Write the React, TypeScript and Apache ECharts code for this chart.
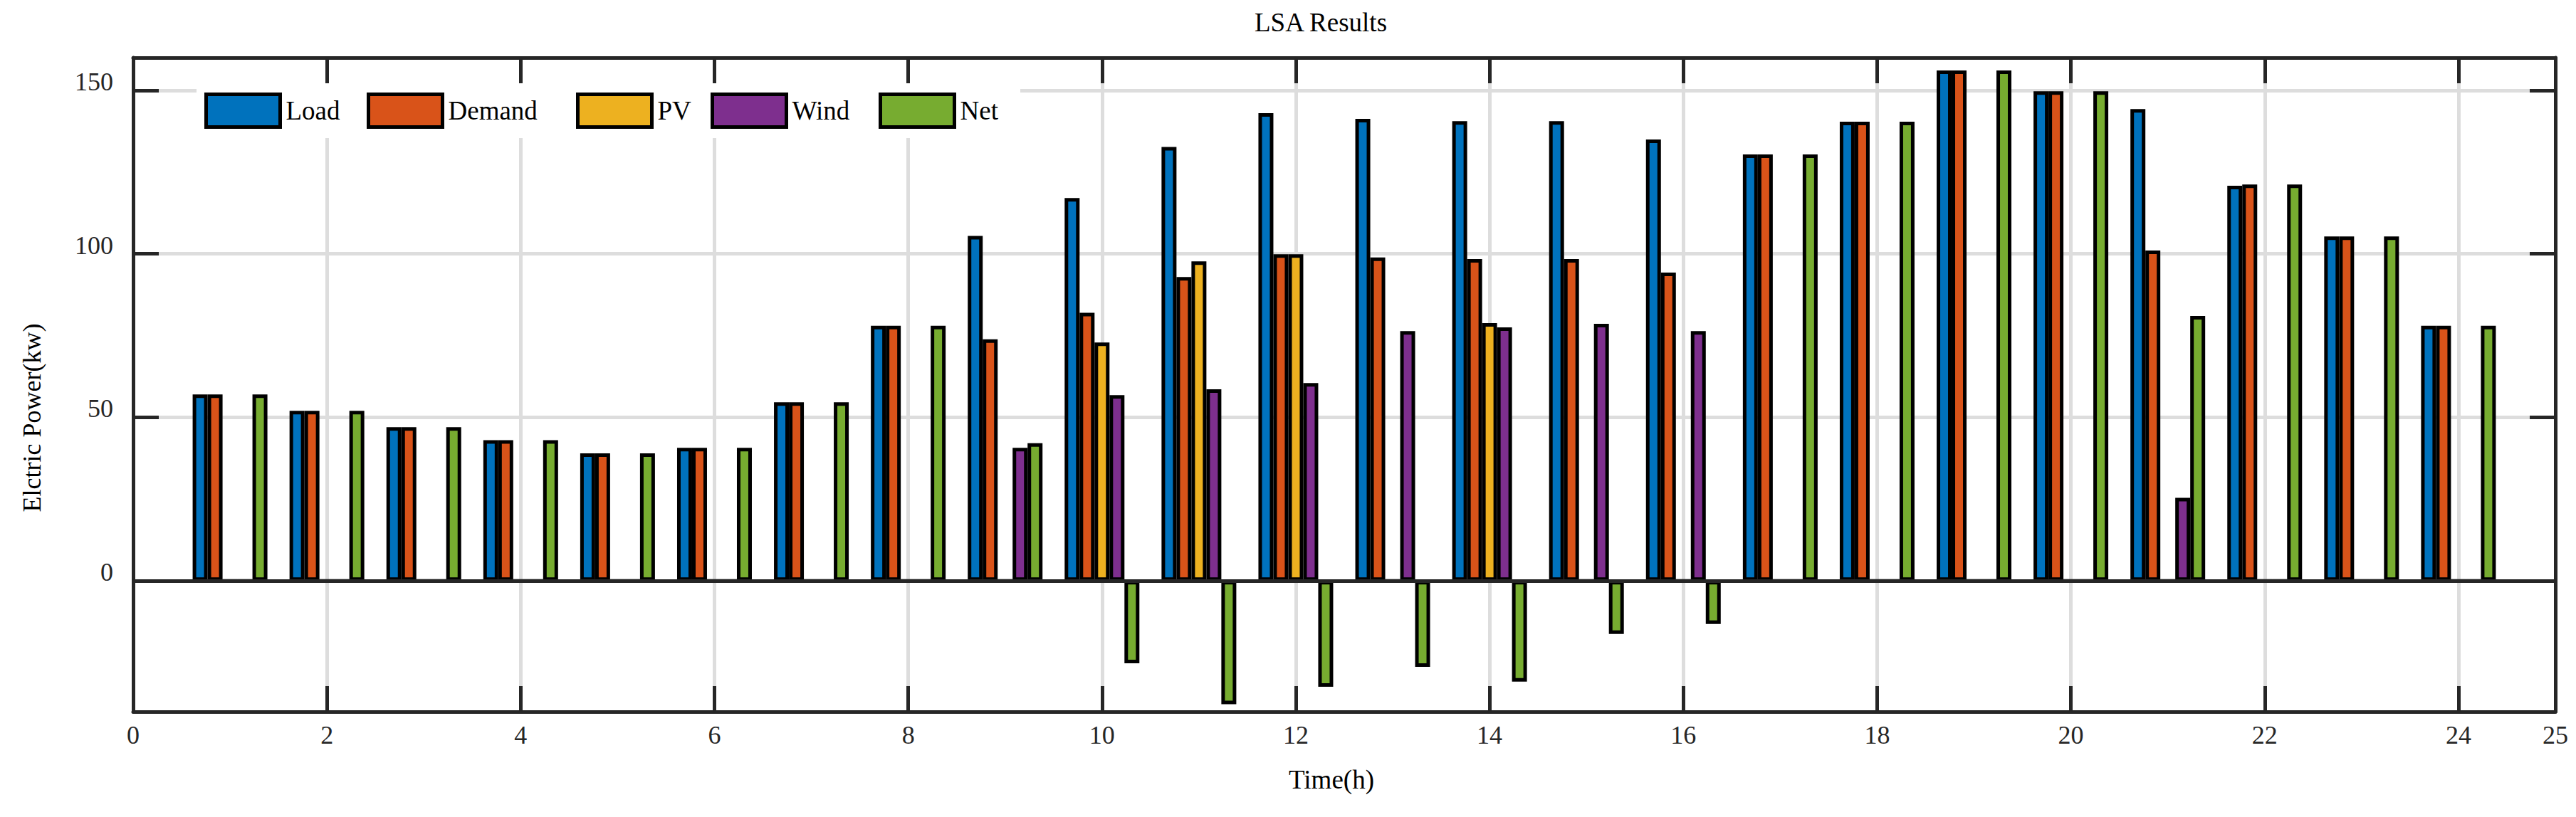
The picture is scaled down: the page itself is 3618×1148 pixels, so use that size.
import React, { useEffect, useRef } from "react";
import * as echarts from "echarts";

// ---------- data ----------
const hours = [1, 2, 3, 4, 5, 6, 7, 8, 9, 10, 11, 12, 13, 14, 15, 16, 17, 18, 19, 20, 21, 22, 23, 24];
const loadValues = [57, 52, 47, 43, 39, 40.7, 54.6, 78, 105.5, 117.1, 132.7, 143, 141.3, 140.6, 140.6, 135, 130.4, 140.4, 156.1, 149.7, 144.3, 120.8, 105.3, 78];
const demandValues = [57, 52, 47, 43, 39, 40.7, 54.6, 78, 73.9, 82, 92.9, 99.9, 98.9, 98.4, 98.4, 94.3, 130.4, 140.4, 156.1, 149.7, 101, 121.2, 105.3, 78];
const pvValues = [0, 0, 0, 0, 0, 0, 0, 0, 0, 72.9, 97.7, 99.9, 0, 78.8, 0, 0, 0, 0, 0, 0, 0, 0, 0, 0];
const windValues = [0, 0, 0, 0, 0, 0, 0, 0, 40.7, 56.8, 58.6, 60.5, 76.4, 77.5, 78.6, 76.4, 0, 0, 0, 0, 25.4, 0, 0, 0];
const netValues = [57, 52, 47, 43, 39, 40.7, 54.6, 78, 42.1, -25.2, -37.7, -32.4, -26.3, -30.8, -16.2, -13.2, 130.4, 140.4, 156.1, 149.7, 81, 121.2, 105.3, 78];

const seriesNames = ["Load", "Demand", "PV", "Wind", "Net"];
const seriesValues = [loadValues, demandValues, pvValues, windValues, netValues];

const xMin = 0;
const xMax = 25;
const xInterval = 2;
const yMin = -40;
const yMax = 160;
const yTickValues = [0, 50, 100, 150];

const titleText = "LSA Results";
const xAxisTitle = "Time(h)";
const yAxisTitle = "Elctric Power(kw)";

// ---------- styles / layout ----------
const seriesColors = ["#0072BD", "#D95319", "#EDB120", "#7E2F8E", "#77AC30"];
const legendLefts = [287, 515, 809, 998, 1234];
const FONT = "Liberation Serif";
const AXIS_COLOR = "#262626";
const GRID_COLOR = "#dddddd";

const W = 3618;
const H = 1148;
const GRID = { left: 187, top: 81, width: 3402, height: 919 };

function buildOption() {
  const series: any[] = seriesNames.map((name, si) => {
    const s: any = {
      type: "bar",
      name,
      xAxisIndex: 0,
      yAxisIndex: 0,
      barWidth: 21,
      barGap: "0%",
      data: hours.map((h, i) => [h, seriesValues[si][i]]),
      itemStyle: {
        color: seriesColors[si],
        borderColor: "#000000",
        borderWidth: 5,
      },
      emphasis: { disabled: true },
    };
    if (si === 0) {
      s.markLine = {
        silent: true,
        symbol: ["none", "none"],
        label: { show: false },
        lineStyle: { color: AXIS_COLOR, width: 5, type: "solid" },
        emphasis: { disabled: true },
        data: [{ yAxis: 0 }],
      };
    }
    return s;
  });

  const legends = seriesNames.map((name, i) => ({
    show: true,
    data: [name],
    left: legendLefts[i],
    top: 130,
    padding: 0,
    itemGap: 0,
    itemWidth: 104,
    itemHeight: 46,
    icon: "rect",
    selectedMode: false,
    itemStyle: { borderColor: "#000000", borderWidth: 5 },
    textStyle: {
      fontFamily: FONT,
      fontSize: 37,
      color: "#000000",
      lineHeight: 20,
      padding: [0, 0, 26, 3],
    },
  }));

  const tickCommon = {
    show: true,
    inside: true,
    length: 36,
    lineStyle: { color: AXIS_COLOR, width: 5 },
  };
  const axisLineCommon = {
    show: true,
    onZero: false,
    lineStyle: { color: AXIS_COLOR, width: 5 },
  };

  return {
    animation: false,
    backgroundColor: "#ffffff",
    textStyle: { fontFamily: FONT },
    grid: { ...GRID, containLabel: false },
    legend: legends,
    xAxis: [
      {
        type: "value",
        position: "bottom",
        min: xMin,
        max: xMax,
        interval: xInterval,
        axisLine: axisLineCommon,
        axisTick: tickCommon,
        axisLabel: {
          show: true,
          margin: 15,
          fontFamily: FONT,
          fontSize: 36,
          color: AXIS_COLOR,
          showMinLabel: true,
          showMaxLabel: true,
          hideOverlap: false,
        },
        splitLine: { show: true, lineStyle: { color: GRID_COLOR, width: 5 } },
      },
      {
        type: "value",
        position: "top",
        min: xMin,
        max: xMax,
        interval: xInterval,
        axisLine: axisLineCommon,
        axisTick: tickCommon,
        axisLabel: { show: false },
        splitLine: { show: false },
      },
    ],
    yAxis: [
      {
        type: "value",
        position: "left",
        min: yMin,
        max: yMax,
        axisLine: axisLineCommon,
        axisTick: { ...tickCommon, customValues: yTickValues },
        axisLabel: {
          show: true,
          customValues: yTickValues,
          margin: 28,
          fontFamily: FONT,
          fontSize: 36,
          color: AXIS_COLOR,
          verticalAlign: "bottom",
          lineHeight: 24,
        },
        splitLine: { show: true, lineStyle: { color: GRID_COLOR, width: 5 } },
      },
      {
        type: "value",
        position: "right",
        min: yMin,
        max: yMax,
        axisLine: axisLineCommon,
        axisTick: { ...tickCommon, customValues: yTickValues },
        axisLabel: { show: false, customValues: yTickValues },
        splitLine: { show: false },
      },
    ],
    graphic: [
      {
        type: "rect",
        z: 1,
        silent: true,
        shape: { x: 276, y: 117, width: 1157, height: 77 },
        style: { fill: "#ffffff" },
      },
      {
        type: "text",
        x: 1855,
        y: 31,
        silent: true,
        style: {
          text: titleText,
          fontFamily: FONT,
          fontSize: 37,
          fill: "#000000",
          align: "center",
          verticalAlign: "middle",
          textAlign: "center",
          textVerticalAlign: "middle",
        },
      },
      {
        type: "text",
        x: 1870,
        y: 1095,
        silent: true,
        style: {
          text: xAxisTitle,
          fontFamily: FONT,
          fontSize: 37,
          fill: "#000000",
          align: "center",
          verticalAlign: "middle",
          textAlign: "center",
          textVerticalAlign: "middle",
        },
      },
      {
        type: "text",
        x: 45,
        y: 587,
        rotation: Math.PI / 2,
        silent: true,
        style: {
          text: yAxisTitle,
          fontFamily: FONT,
          fontSize: 36,
          fill: "#000000",
          align: "center",
          verticalAlign: "middle",
          textAlign: "center",
          textVerticalAlign: "middle",
        },
      },
    ],
    series,
  };
}

export default function App() {
  const ref = useRef<HTMLDivElement | null>(null);
  useEffect(() => {
    if (!ref.current) return;
    const chart = echarts.init(ref.current, undefined, { renderer: "svg", width: W, height: H });
    chart.setOption(buildOption() as any);
    return () => {
      chart.dispose();
    };
  }, []);
  return (
    <div
      ref={ref}
      style={{ position: "fixed", left: 0, top: 0, width: W, height: H, background: "#ffffff" }}
    />
  );
}
